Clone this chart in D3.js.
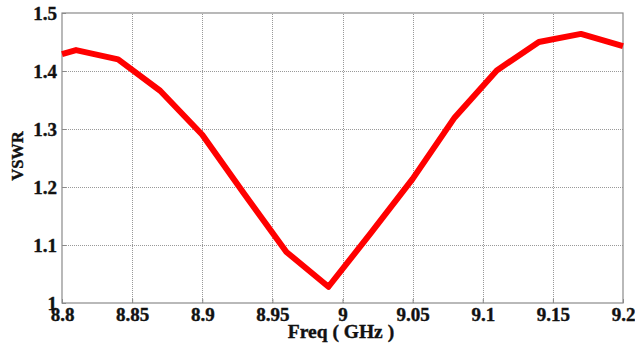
<!DOCTYPE html>
<html>
<head>
<meta charset="utf-8">
<script src="https://cdn.jsdelivr.net/npm/d3@7"></script>
<style>
  body { margin: 0; background: #fff; }
</style>
</head>
<body>
<svg id="chart" width="635" height="343"></svg>
<script>
// frequency samples (GHz) and measured VSWR
const freq = [8.8, 8.81, 8.84, 8.87, 8.9, 8.93, 8.96, 8.99, 9.02, 9.05, 9.08, 9.11, 9.14, 9.17, 9.2];
const vswr = [1.429, 1.436, 1.420, 1.366, 1.290, 1.188, 1.088, 1.028, 1.120, 1.214, 1.320, 1.401, 1.450, 1.464, 1.443];
const xTicks = [8.8, 8.85, 8.9, 8.95, 9, 9.05, 9.1, 9.15, 9.2];
const yTicks = [1, 1.1, 1.2, 1.3, 1.4, 1.5];

const FONT = "'Liberation Serif', 'Times New Roman', Times, serif";

const margin = {top: 13, right: 12, bottom: 40, left: 62};
const W = 635, H = 343;

const svg = d3.select("#chart");

const x = d3.scaleLinear().domain([8.8, 9.2]).range([margin.left, W - margin.right]);
const y = d3.scaleLinear().domain([1, 1.5]).range([H - margin.bottom, margin.top]);

// grid
const grid = svg.append("g")
    .attr("stroke", "#999")
    .attr("stroke-width", 1)
    .attr("stroke-dasharray", "1,1");
grid.selectAll("line.v")
  .data(xTicks.slice(1, -1))
  .join("line")
    .attr("x1", d => Math.round(x(d)) + 0.5).attr("x2", d => Math.round(x(d)) + 0.5)
    .attr("y1", y(1)).attr("y2", y(1.5));
grid.selectAll("line.h")
  .data(yTicks.slice(1, -1))
  .join("line")
    .attr("class", "h")
    .attr("y1", d => Math.round(y(d)) + 0.5).attr("y2", d => Math.round(y(d)) + 0.5)
    .attr("x1", x(8.8)).attr("x2", x(9.2));

// box
svg.append("rect")
    .attr("x", x(8.8)).attr("y", y(1.5))
    .attr("width", x(9.2) - x(8.8)).attr("height", y(1) - y(1.5))
    .attr("fill", "none").attr("stroke", "#8a8a8a").attr("stroke-width", 1.2);

// axes
const xAxis = svg.append("g")
    .attr("transform", `translate(0,${y(1)})`)
    .call(d3.axisBottom(x).tickValues(xTicks).tickFormat(d3.format("")).tickSizeInner(-4).tickSizeOuter(0).tickPadding(5));
const yAxis = svg.append("g")
    .attr("transform", `translate(${x(8.8)},0)`)
    .call(d3.axisLeft(y).tickValues(yTicks).tickFormat(d3.format("")).tickSizeInner(-4).tickSizeOuter(0).tickPadding(5));

[xAxis, yAxis].forEach(a => {
  a.attr("font-family", FONT).attr("font-size", 19).attr("font-weight", "bold");
  a.select(".domain").remove();
  a.selectAll(".tick line").attr("stroke", "#8a8a8a");
  a.selectAll(".tick text").attr("fill", "#111").attr("stroke", "#111").attr("stroke-width", 0.4);
});
yAxis.selectAll(".tick text").attr("dy", "0.35em");

// curve
const line = d3.line()
    .x((d, i) => x(freq[i]))
    .y(d => y(d));
svg.append("path")
    .datum(vswr)
    .attr("fill", "none")
    .attr("stroke", "#ff0000")
    .attr("stroke-width", 6)
    .attr("stroke-linejoin", "round")
    .attr("d", line);

// labels
svg.append("text")
    .attr("x", 341)
    .attr("y", 338)
    .attr("text-anchor", "middle")
    .attr("font-family", FONT).attr("font-weight", "bold")
    .attr("font-size", 19.5).attr("fill", "#111")
    .attr("stroke", "#111").attr("stroke-width", 0.4)
    .text("Freq ( GHz )");
svg.append("text")
    .attr("transform", "translate(23,156) rotate(-90)")
    .attr("text-anchor", "middle")
    .attr("font-family", FONT).attr("font-weight", "bold")
    .attr("font-size", 16.5).attr("fill", "#111")
    .attr("stroke", "#111").attr("stroke-width", 0.4)
    .text("VSWR");
</script>
</body>
</html>
